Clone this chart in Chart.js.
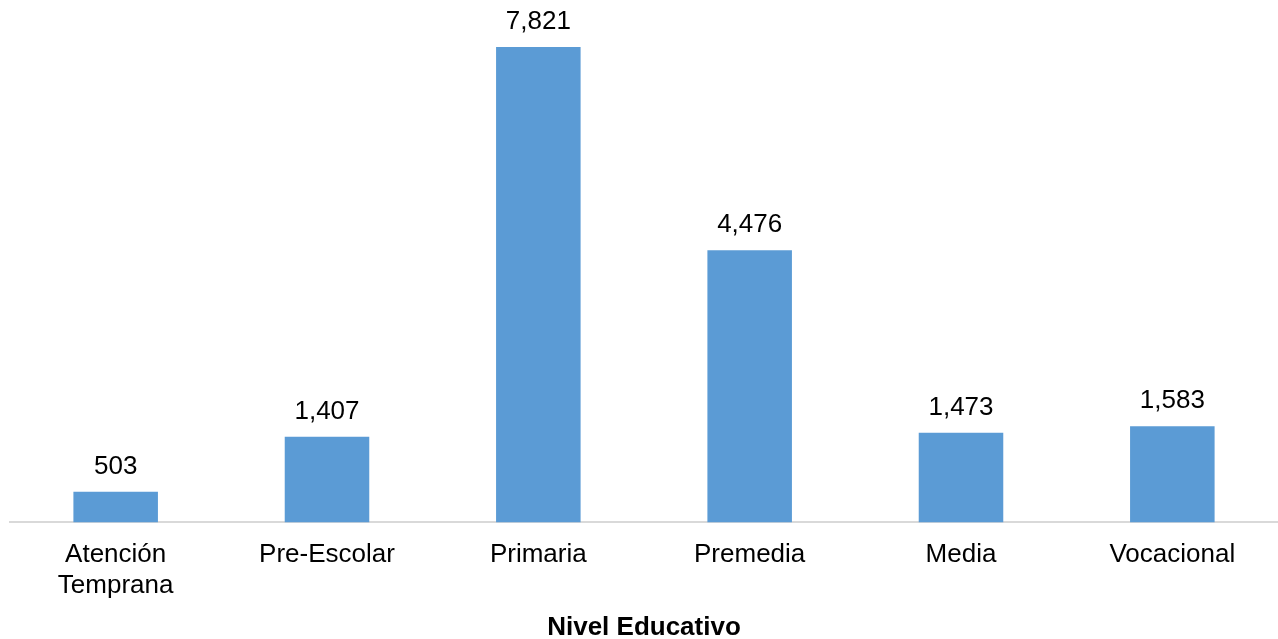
<!DOCTYPE html>
<html>
<head>
<meta charset="utf-8">
<style>
  html, body { margin: 0; padding: 0; background: #fff; }
  #wrap { width: 1278px; height: 639px; }
</style>
<script src="https://cdn.jsdelivr.net/npm/chart.js@4/dist/chart.umd.min.js"></script>
</head>
<body>
<div id="wrap"><canvas id="chart"></canvas></div>
<script>
const categories = [['Atención', 'Temprana'], 'Pre-Escolar', 'Primaria', 'Premedia', 'Media', 'Vocacional']
const students = [503, 1407, 7821, 4476, 1473, 1583]
const axisTitle = 'Nivel Educativo'

const fontFamily = 'Arial, "Liberation Sans", sans-serif'

// numbers above each bar
const barLabels = {
  id: 'barLabels',
  afterDatasetsDraw(chart) {
    const ctx = chart.ctx
    const meta = chart.getDatasetMeta(0)
    ctx.save()
    ctx.font = `26px ${fontFamily}`
    ctx.fillStyle = '#000'
    ctx.textAlign = 'center'
    ctx.textBaseline = 'alphabetic'
    meta.data.forEach((bar, i) => {
      ctx.fillText(students[i].toLocaleString('en-US'), bar.x, bar.y - 18)
    })
    ctx.restore()
  }
}

new Chart(document.getElementById('chart'), {
  type: 'bar',
  data: {
    labels: categories,
    datasets: [{
      data: students,
      backgroundColor: '#5b9bd5',
      categoryPercentage: 1,
      barPercentage: 0.4
    }]
  },
  options: {
    responsive: true,
    maintainAspectRatio: false,
    animation: false,
    layout: { padding: { left: 10, right: 0, top: 36, bottom: -2 } },
    plugins: {
      legend: { display: false },
      tooltip: { enabled: false }
    },
    scales: {
      y: {
        display: false,
        min: 0,
        max: 8000
      },
      x: {
        grid: { display: false, drawTicks: false },
        border: { display: true, color: '#d9d9d9', width: 2 },
        ticks: {
          color: '#000',
          padding: 17,
          maxRotation: 0,
          font: { family: fontFamily, size: 26, lineHeight: 1.2 }
        },
        title: {
          display: true,
          text: axisTitle,
          color: '#000',
          padding: { top: -7, bottom: -2 },
          font: { family: fontFamily, size: 26, weight: 'bold', lineHeight: 1.2 }
        }
      }
    }
  },
  plugins: [barLabels]
})
</script>
</body>
</html>
